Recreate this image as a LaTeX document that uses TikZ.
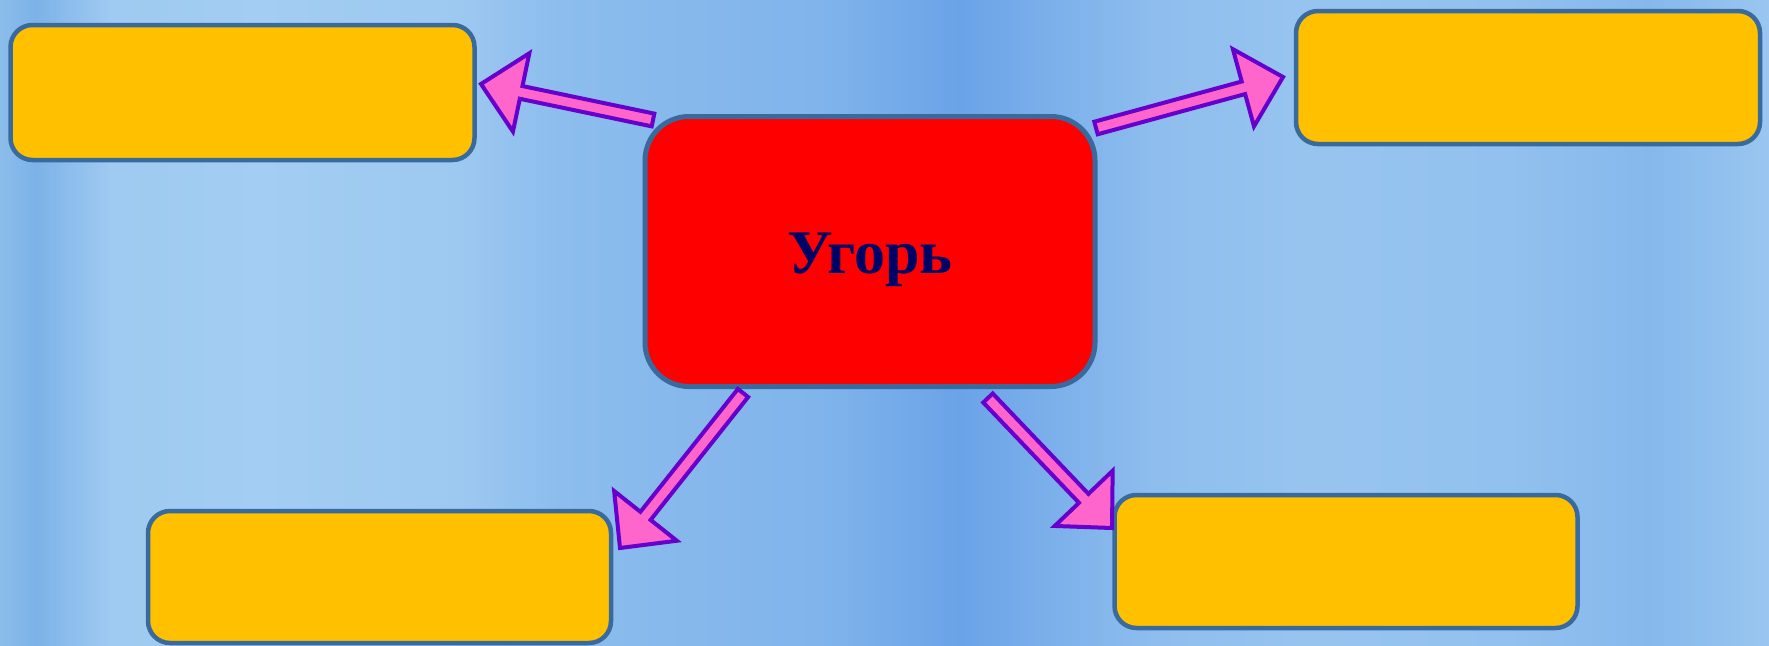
\documentclass[tikz,border=0pt]{standalone}
\usepackage{fontspec}
\setmainfont{Liberation Serif}
\usetikzlibrary{calc}
\definecolor{boxfill}{HTML}{FFC000}
\definecolor{boxline}{HTML}{386A9E}
\definecolor{arrfill}{HTML}{FF66CC}
\definecolor{arrline}{HTML}{6600CC}
\definecolor{txt}{HTML}{000066}
\definecolor{bgA}{HTML}{8CBDEB}
\definecolor{bgB}{HTML}{7CB2E8}
\definecolor{bgC}{HTML}{9FCAF1}
\definecolor{bgD}{HTML}{A3CDF2}
\definecolor{bgE}{HTML}{9DC8F0}
\definecolor{bgF}{HTML}{8CBDEE}
\definecolor{bgG}{HTML}{88B9EC}
\definecolor{bgH}{HTML}{80B4EB}
\definecolor{bgI}{HTML}{6AA3E7}
\definecolor{bgJ}{HTML}{7DB1EB}
\definecolor{bgK}{HTML}{8FBEEE}
\definecolor{bgL}{HTML}{97C4EF}
\definecolor{bgM}{HTML}{93C1EF}
\definecolor{bgN}{HTML}{86B8EC}
\definecolor{bgO}{HTML}{9AC6F0}
\tikzset{
  smallbox/.style={draw=boxline, line width=4.5pt, fill=boxfill, rounded corners=22pt,
    minimum width=#1, minimum height=132pt, inner sep=0pt},
  mainbox/.style={draw=boxline, line width=5pt, fill=red, rounded corners=44pt,
    minimum width=450pt, minimum height=270pt, inner sep=0pt},
  maintext/.style={text=txt, font=\fontsize{62}{62}\selectfont\bfseries, inner sep=0pt},
  arrowstyle/.style={draw=arrline, fill=arrfill, line width=4pt, line join=miter},
}
\newcommand\blockarrow[2]{%
  \draw[arrowstyle] let \p1=($(#2)-(#1)$), \n1={atan2(\y1,\x1)}, \n2={veclen(\x1,\y1)} in
    [shift={(#1)}, rotate=\n1]
    (0,-6.5) -- (\n2-41,-6.5) -- (\n2-41,-40) -- (\n2,0) -- (\n2-41,40) -- (\n2-41,6.5) -- (0,6.5) -- cycle;}
\begin{document}
\begin{tikzpicture}[x=1pt,y=-1pt]
\useasboundingbox (0,0) rectangle (1769,645);
\foreach \xa/\xb/\ca/\cb in {0/35/bgA/bgB, 35/110/bgB/bgC, 110/260/bgC/bgD, 260/460/bgD/bgE,
  460/560/bgE/bgF, 560/660/bgF/bgG, 660/820/bgG/bgH, 820/960/bgH/bgI, 960/1060/bgI/bgJ,
  1060/1160/bgJ/bgK, 1160/1310/bgK/bgL, 1310/1500/bgL/bgM, 1500/1650/bgM/bgN, 1650/1769/bgN/bgO}
  \shade[left color=\ca, right color=\cb] (\xa-0.5,0) rectangle (\xb+0.5,645);

\node[mainbox] (c) at (870,251.5) {};
\node[maintext] (ct) at (c.center) [yshift=-8pt] {Угорь};
\node[smallbox=464pt, minimum height=135pt] (tl) at (242.5,92.5) {};
\node[smallbox=464pt, minimum height=133pt] (tr) at (1528,77.5) {};
\node[smallbox=463pt, minimum height=132pt] (bl) at (379.5,577) {};
\node[smallbox=463pt, minimum height=133pt] (br) at (1346,561.5) {};

\coordinate (tlS) at (653,120);
\coordinate (tlE) at (481,84);
\coordinate (trS) at (1096,128);
\coordinate (trE) at (1283,77);
\coordinate (blS) at (743,393);
\coordinate (blE) at (620,548);
\coordinate (brS) at (988,398);
\coordinate (brE) at (1112,528);
\blockarrow{tlS}{tlE}
\blockarrow{trS}{trE}
\blockarrow{blS}{blE}
\blockarrow{brS}{brE}
\end{tikzpicture}
\end{document}
